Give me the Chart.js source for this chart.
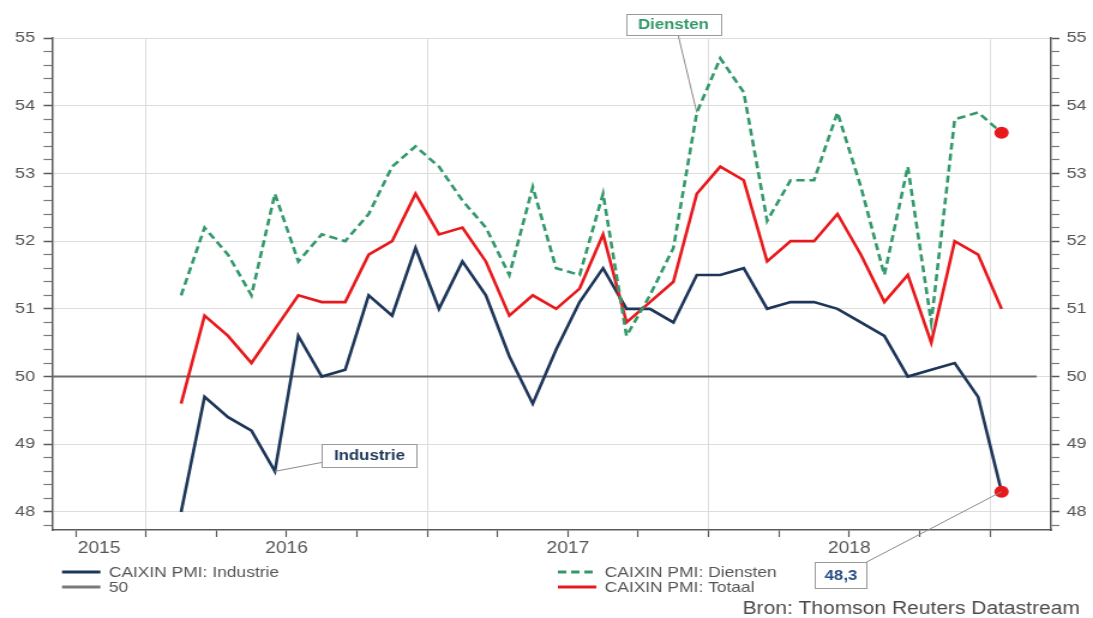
<!DOCTYPE html>
<html>
<head>
<meta charset="utf-8">
<title>CAIXIN PMI</title>
<script src="https://cdn.jsdelivr.net/npm/chart.js@4.4.1/dist/chart.umd.min.js"></script>
<style>
  html, body { margin: 0; padding: 0; background: #ffffff; }
  canvas { display: block; }
</style>
</head>
<body>
<!-- drawn at 911 px wide and shown at 1093 px: the layout is horizontally stretched -->
<canvas id="pmi" width="911" height="618" style="width:1093px;height:618px"></canvas>
<script>
// Monthly readings, February 2016 to January 2019
const months = [
  '2016-02','2016-03','2016-04','2016-05','2016-06','2016-07','2016-08','2016-09','2016-10','2016-11','2016-12','2017-01',
  '2017-02','2017-03','2017-04','2017-05','2017-06','2017-07','2017-08','2017-09','2017-10','2017-11','2017-12','2018-01',
  '2018-02','2018-03','2018-04','2018-05','2018-06','2018-07','2018-08','2018-09','2018-10','2018-11','2018-12','2019-01'
];
const industrie = [
  48.0, 49.7, 49.4, 49.2, 48.6, 50.6, 50.0, 50.1, 51.2, 50.9, 51.9, 51.0,
  51.7, 51.2, 50.3, 49.6, 50.4, 51.1, 51.6, 51.0, 51.0, 50.8, 51.5, 51.5,
  51.6, 51.0, 51.1, 51.1, 51.0, 50.8, 50.6, 50.0, 50.1, 50.2, 49.7, 48.3
];
const diensten = [
  51.2, 52.2, 51.8, 51.2, 52.7, 51.7, 52.1, 52.0, 52.4, 53.1, 53.4, 53.1,
  52.6, 52.2, 51.5, 52.8, 51.6, 51.5, 52.7, 50.6, 51.2, 51.9, 53.9, 54.7,
  54.2, 52.3, 52.9, 52.9, 53.9, 52.8, 51.5, 53.1, 50.8, 53.8, 53.9, 53.6
];
const totaal = [
  49.6, 50.9, 50.6, 50.2, 50.7, 51.2, 51.1, 51.1, 51.8, 52.0, 52.7, 52.1,
  52.2, 51.7, 50.9, 51.2, 51.0, 51.3, 52.1, 50.8, 51.1, 51.4, 52.7, 53.1,
  52.9, 51.7, 52.0, 52.0, 52.4, 51.8, 51.1, 51.5, 50.5, 52.0, 51.8, 51.0
];
// the 50 reference level and the months it spans
const fiftyLevel = 50;
const fiftySpan = [-4.0, 38.0];

// axis labels
const yearLabels = ['2015', '2016', '2017', '2018'];
const yearLabelPos = [-2, 6, 18, 30];          // months after Jan 2016
const yTickLabels = [48, 49, 50, 51, 52, 53, 54, 55];

// x axis unit: months since 1 January 2016; a monthly value sits mid-month
const monthPos = months.map(m => {
  const [yy, mm] = m.split('-').map(Number);
  return (yy - 2016) * 12 + (mm - 1) + 0.5;
});
const pts = arr => arr.map((v, i) => ({ x: monthPos[i], y: v }));

const NAVY = '#1d3659';
const RED = '#e8191c';
const GREEN = '#33996b';
const GREY_TEXT = '#555555';
const AXIS = '#5a5a5a';
const GRID = '#dddddd';
const NONE = 'rgba(0,0,0,0)';

const quarterTicks = [];
for (let q = -3; q <= 36; q += 3) quarterTicks.push(q);
const xTickValues = Array.from(new Set(quarterTicks.concat(yearLabelPos))).sort((a, b) => a - b);

const yTickValues = [];
for (let k = 239; k <= 275; k++) yTickValues.push(Math.round(k * 2) / 10);   // every 0.2
const isMajor = v => Math.abs(v - Math.round(v)) < 1e-6 && yTickLabels.includes(Math.round(v));

Chart.defaults.font.family = '"Liberation Sans", Arial, sans-serif';

const lastDot = arr => ctx => (ctx.dataIndex === arr.length - 1 ? 6 : 0);

// free text: legend, source line and value call-outs
const decorations = {
  id: 'decorations',
  afterDraw(chart) {
    const { ctx } = chart;
    const xs = chart.scales.x, ys = chart.scales.y;

    // call-out boxes with leader lines
    const callouts = [
      { text: 'Diensten', color: GREEN, series: diensten, idx: 22, bx: 22.5, by: 55.2, h: 21, pad: 10, anchor: [0.55, 1] },
      { text: 'Industrie', color: NAVY, series: industrie, idx: 4, bx: 9.535, by: 48.834, h: 23, pad: 10, anchor: [0, 0.8] },
      { text: industrie[industrie.length - 1].toFixed(1).replace('.', ','), color: '#2a4f86', series: industrie,
        idx: industrie.length - 1, bx: 29.65, by: 47.07, h: 26, pad: 8, anchor: [0.92, 0.08] }
    ];
    ctx.save();
    ctx.font = 'bold 14px "Liberation Sans", Arial, sans-serif';
    callouts.forEach(c => {
      const tw = ctx.measureText(c.text).width;
      const w = tw + 2 * c.pad;
      const cx = xs.getPixelForValue(c.bx), cy = ys.getPixelForValue(c.by);
      const left = cx - w / 2, top = cy - c.h / 2;
      const px = xs.getPixelForValue(monthPos[c.idx]), py = ys.getPixelForValue(c.series[c.idx]);
      ctx.strokeStyle = '#8a8a8a';
      ctx.lineWidth = 1;
      ctx.beginPath();
      ctx.moveTo(left + w * c.anchor[0], top + c.h * c.anchor[1]);
      ctx.lineTo(px, py);
      ctx.stroke();
      ctx.fillStyle = '#ffffff';
      ctx.fillRect(left, top, w, c.h);
      ctx.strokeStyle = '#9a9a9a';
      ctx.strokeRect(Math.round(left) + 0.5, Math.round(top) + 0.5, Math.round(w), Math.round(c.h));
      ctx.fillStyle = c.color;
      ctx.textAlign = 'center';
      ctx.textBaseline = 'middle';
      ctx.fillText(c.text, cx, cy + 1);
    });

    // legend
    const rows = [
      { label: 'CAIXIN PMI: Industrie', color: NAVY, dash: [], x: 51.7, y: 572 },
      { label: '50', color: '#7a7a7a', dash: [], x: 51.7, y: 587 },
      { label: 'CAIXIN PMI: Diensten', color: GREEN, dash: [7, 4], x: 465, y: 572 },
      { label: 'CAIXIN PMI: Totaal', color: RED, dash: [], x: 465, y: 587 }
    ];
    ctx.font = '14.5px "Liberation Sans", Arial, sans-serif';
    ctx.textAlign = 'left';
    ctx.textBaseline = 'middle';
    rows.forEach(r => {
      ctx.strokeStyle = r.color;
      ctx.lineWidth = 3;
      ctx.setLineDash(r.dash);
      ctx.beginPath();
      ctx.moveTo(r.x, r.y);
      ctx.lineTo(r.x + 32, r.y);
      ctx.stroke();
      ctx.setLineDash([]);
      ctx.fillStyle = GREY_TEXT;
      ctx.fillText(r.label, r.x + 39, r.y + 1);
    });

    // source
    ctx.font = '17.5px "Liberation Sans", Arial, sans-serif';
    ctx.textAlign = 'right';
    ctx.textBaseline = 'alphabetic';
    ctx.fillStyle = '#4a4a4a';
    ctx.fillText('Bron: Thomson Reuters Datastream', 900, 614);
    ctx.restore();
  }
};

const yAxis = (position, showGrid) => ({
  type: 'linear',
  position,
  min: 47.734,
  max: 55,
  afterBuildTicks: s => { s.ticks = yTickValues.map(v => ({ value: v })); },
  afterFit: s => { s.width = position === 'left' ? 43.3 : 35; },
  grid: {
    drawOnChartArea: showGrid,
    color: c => (c.tick && isMajor(c.tick.value)) ? GRID : NONE,
    lineWidth: 1,
    tickLength: 7,
    tickColor: c => (c.tick && isMajor(c.tick.value)) ? AXIS : '#7a7a7a',
    tickWidth: c => (c.tick && isMajor(c.tick.value)) ? 1.5 : 1.2
  },
  border: { display: true, color: AXIS, width: 1.5 },
  ticks: {
    autoSkip: false,
    padding: position === 'left' ? 7 : 6,
    color: GREY_TEXT,
    font: { size: 15 },
    callback: v => isMajor(v) ? String(Math.round(v)) : ''
  }
});

new Chart(document.getElementById('pmi'), {
  type: 'line',
  data: {
    datasets: [
      {
        label: 'CAIXIN PMI: Diensten', data: pts(diensten), yAxisID: 'y',
        borderColor: GREEN, borderWidth: 2.6, borderDash: [7, 4], tension: 0,
        pointRadius: lastDot(diensten), pointBackgroundColor: RED, pointBorderWidth: 0, pointHoverRadius: 0
      },
      {
        label: 'CAIXIN PMI: Totaal', data: pts(totaal), yAxisID: 'y',
        borderColor: RED, borderWidth: 2.6, tension: 0, pointRadius: 0
      },
      {
        label: 'CAIXIN PMI: Industrie', data: pts(industrie), yAxisID: 'y',
        borderColor: NAVY, borderWidth: 2.6, tension: 0,
        pointRadius: lastDot(industrie), pointBackgroundColor: RED, pointBorderWidth: 0, pointHoverRadius: 0
      },
      {
        label: '50', data: fiftySpan.map(m => ({ x: m, y: fiftyLevel })), yAxisID: 'y',
        borderColor: '#6e6e6e', borderWidth: 2, pointRadius: 0
      }
    ]
  },
  options: {
    responsive: false,
    devicePixelRatio: 1,
    animation: false,
    events: [],
    layout: { padding: { top: 38, left: 0, right: 0, bottom: 0 } },
    plugins: { legend: { display: false }, tooltip: { enabled: false }, title: { display: false } },
    scales: {
      x: {
        type: 'linear',
        min: -4.01,
        max: 38.61,
        afterBuildTicks: s => { s.ticks = xTickValues.map(v => ({ value: v })); },
        afterFit: s => { s.height = 88; },
        grid: {
          color: c => (c.tick && c.tick.value % 12 === 0) ? GRID : NONE,
          lineWidth: 1,
          tickLength: 7,
          tickColor: c => (c.tick && quarterTicks.includes(c.tick.value)) ? AXIS : NONE,
          tickWidth: 1.2
        },
        border: { display: true, color: AXIS, width: 1.5 },
        ticks: {
          autoSkip: false,
          maxRotation: 0,
          padding: 2,
          color: GREY_TEXT,
          font: { size: 16 },
          callback: v => {
            const i = yearLabelPos.indexOf(v);
            return i >= 0 ? yearLabels[i] : '';
          }
        }
      },
      y: yAxis('left', true),
      y2: yAxis('right', false)
    }
  },
  plugins: [decorations]
});
</script>
</body>
</html>
